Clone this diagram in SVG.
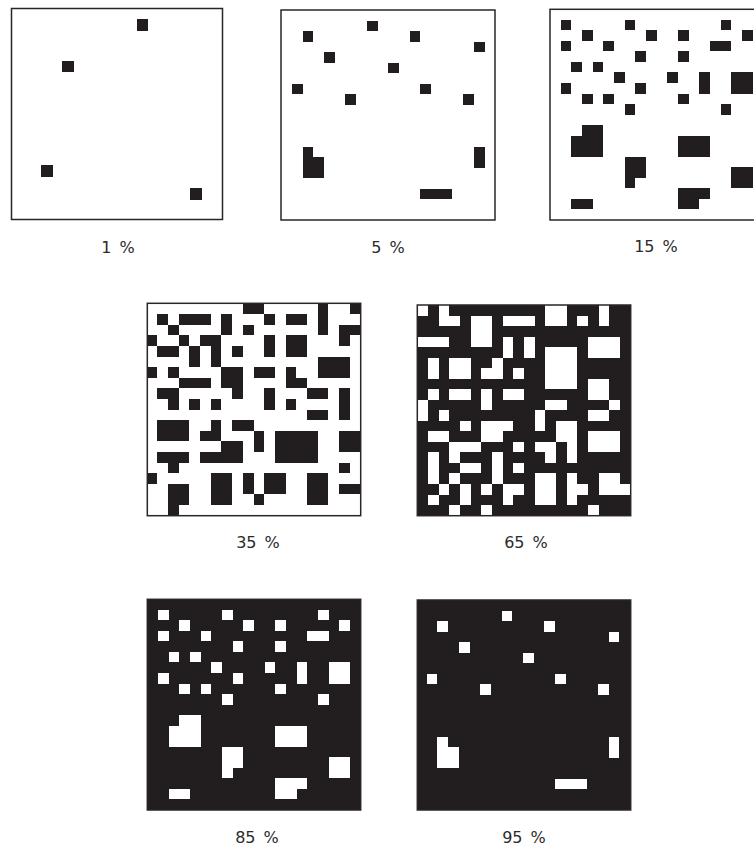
<svg xmlns="http://www.w3.org/2000/svg" width="754" height="847" viewBox="0 0 754 847">
<style>
.k{fill:#221e1f}
.w{fill:#ffffff}
.cells rect{shape-rendering:crispEdges}
.frame{fill:none;stroke:#2a2626;stroke-width:1.5}
.lbl{font-family:"DejaVu Sans","Liberation Sans",sans-serif;font-size:16px;fill:#2b2b2b;text-anchor:middle;word-spacing:3px}
</style>
<rect x="0" y="0" width="754" height="847" fill="#ffffff"/>

<g id="panel-1">
<rect x="11.5" y="8.5" width="211" height="211" class="w"/>
<g class="k cells">
<rect x="136.7" y="19.3" width="11.6" height="11.7"/>
<rect x="62.3" y="60.7" width="11.7" height="11.6"/>
<rect x="40.7" y="165" width="12" height="12.3"/>
<rect x="190" y="188.3" width="12" height="11.7"/>
</g>
<rect x="11.5" y="8.5" width="211" height="211" class="frame"/>
<text x="118" y="253" class="lbl">1 %</text>
</g>

<g id="panel-5">
<rect x="281" y="10" width="214" height="210" class="w"/>
<g class="k cells" transform="translate(281.3,10) scale(10.7,10.5)">
<rect x="8" y="1" width="1" height="1"/><rect x="2" y="2" width="1" height="1"/><rect x="12" y="2" width="1" height="1"/>
<rect x="18" y="3" width="1" height="1"/><rect x="4" y="4" width="1" height="1"/><rect x="10" y="5" width="1" height="1"/>
<rect x="1" y="7" width="1" height="1"/><rect x="13" y="7" width="1" height="1"/><rect x="6" y="8" width="1" height="1"/>
<rect x="17" y="8" width="1" height="1"/>
<rect x="2" y="13" width="1" height="3"/><rect x="3" y="14" width="1" height="2"/>
<rect x="18" y="13" width="1" height="2"/><rect x="13" y="17" width="3" height="1"/>
</g>
<rect x="281" y="10" width="214" height="210" class="frame"/>
<text x="388" y="253" class="lbl">5 %</text>
</g>

<g id="panel-15">
<rect x="550" y="9.3" width="213.4" height="210.7" class="w"/>
<g class="k cells" transform="translate(550,9.3) scale(10.667,10.53)">
<rect x="1" y="1" width="1" height="1"/><rect x="7" y="1" width="1" height="1"/><rect x="16" y="1" width="1" height="1"/>
<rect x="3" y="2" width="1" height="1"/><rect x="9" y="2" width="1" height="1"/><rect x="12" y="2" width="1" height="1"/>
<rect x="18" y="2" width="1" height="1"/><rect x="1" y="3" width="1" height="1"/><rect x="5" y="3" width="1" height="1"/>
<rect x="15" y="3" width="2" height="1"/><rect x="8" y="4" width="1" height="1"/><rect x="12" y="4" width="1" height="1"/>
<rect x="2" y="5" width="1" height="1"/><rect x="4" y="5" width="1" height="1"/><rect x="6" y="6" width="1" height="1"/>
<rect x="11" y="6" width="1" height="1"/><rect x="14" y="6" width="1" height="2"/><rect x="17" y="6" width="2" height="2"/>
<rect x="1" y="7" width="1" height="1"/><rect x="8" y="7" width="1" height="1"/><rect x="3" y="8" width="1" height="1"/>
<rect x="5" y="8" width="1" height="1"/><rect x="12" y="8" width="1" height="1"/><rect x="7" y="9" width="1" height="1"/>
<rect x="16" y="9" width="1" height="1"/>
<rect x="3" y="11" width="2" height="3"/><rect x="2" y="12" width="1" height="2"/>
<rect x="12" y="12" width="3" height="2"/>
<rect x="7" y="14" width="2" height="2"/><rect x="7" y="16" width="1" height="1"/>
<rect x="17" y="15" width="2" height="2"/><rect x="2" y="18" width="2" height="1"/>
<rect x="12" y="17" width="3" height="1"/><rect x="12" y="18" width="2" height="1"/>
</g>
<rect x="550" y="9.3" width="213.4" height="210.7" class="frame"/>
<text x="656" y="252" class="lbl">15 %</text>
</g>

<g id="panel-35">
<rect x="147.3" y="303.3" width="213.4" height="212.4" class="w"/>
<g class="k cells" transform="translate(146.5,303.5) scale(10.7,10.6)">
<rect x="9" y="0" width="2" height="1"/><rect x="11" y="1" width="1" height="1"/><rect x="16" y="0" width="1" height="3"/>
<rect x="19" y="0" width="1" height="1"/><rect x="1" y="1" width="1" height="1"/><rect x="3" y="1" width="3" height="1"/>
<rect x="7" y="1" width="1" height="2"/><rect x="13" y="1" width="2" height="1"/><rect x="2" y="2" width="1" height="1"/>
<rect x="9" y="2" width="1" height="1"/><rect x="18" y="2" width="2" height="1"/><rect x="18" y="3" width="1" height="1"/>
<rect x="0" y="3" width="1" height="1"/><rect x="3" y="3" width="1" height="1"/><rect x="5" y="3" width="2" height="1"/>
<rect x="11" y="3" width="1" height="2"/><rect x="13" y="3" width="2" height="2"/><rect x="1" y="4" width="2" height="1"/>
<rect x="4" y="4" width="1" height="2"/><rect x="6" y="4" width="1" height="2"/><rect x="8" y="4" width="1" height="1"/>
<rect x="16" y="5" width="3" height="2"/><rect x="0" y="6" width="1" height="1"/><rect x="2" y="6" width="1" height="1"/>
<rect x="7" y="6" width="2" height="2"/><rect x="8" y="8" width="1" height="1"/><rect x="10" y="6" width="2" height="1"/>
<rect x="13" y="6" width="1" height="1"/><rect x="13" y="7" width="2" height="1"/><rect x="15" y="8" width="2" height="1"/>
<rect x="3" y="7" width="3" height="1"/><rect x="1" y="8" width="2" height="1"/><rect x="2" y="9" width="1" height="1"/>
<rect x="11" y="8" width="1" height="2"/><rect x="18" y="8" width="1" height="3"/><rect x="4" y="9" width="1" height="1"/>
<rect x="6" y="9" width="1" height="1"/><rect x="13" y="9" width="1" height="1"/><rect x="15" y="10" width="2" height="1"/>
<rect x="1" y="11" width="3" height="2"/><rect x="6" y="11" width="1" height="1"/><rect x="5" y="12" width="2" height="1"/>
<rect x="8" y="11" width="2" height="1"/><rect x="10" y="12" width="1" height="2"/><rect x="12" y="12" width="4" height="3"/>
<rect x="18" y="12" width="2" height="2"/><rect x="7" y="13" width="2" height="1"/><rect x="5" y="14" width="4" height="1"/>
<rect x="1" y="14" width="3" height="1"/><rect x="2" y="15" width="1" height="1"/><rect x="18" y="15" width="1" height="1"/>
<rect x="0" y="16" width="1" height="1"/><rect x="6" y="16" width="2" height="3"/><rect x="9" y="16" width="1" height="2"/>
<rect x="10" y="18" width="1" height="1"/><rect x="11" y="16" width="2" height="2"/><rect x="15" y="16" width="2" height="3"/>
<rect x="18" y="17" width="2" height="1"/><rect x="2" y="17" width="2" height="2"/><rect x="2" y="19" width="1" height="1"/>
</g>
<rect x="147.3" y="303.3" width="213.4" height="212.4" class="frame"/>
<text x="258" y="548" class="lbl">35 %</text>
</g>

<g id="panel-65">
<rect x="417.3" y="305" width="213.4" height="210.7" class="k"/>
<g class="w cells" transform="translate(417.3,305) scale(10.667,10.53)">
<rect x="0" y="0" width="1" height="1"/><rect x="2" y="0" width="1" height="2"/><rect x="3" y="1" width="1" height="1"/>
<rect x="5" y="1" width="2" height="3"/><rect x="8" y="1" width="3" height="1"/><rect x="12" y="0" width="2" height="2"/>
<rect x="15" y="1" width="1" height="1"/><rect x="17" y="0" width="1" height="2"/><rect x="0" y="3" width="3" height="1"/>
<rect x="8" y="3" width="1" height="2"/><rect x="10" y="3" width="1" height="2"/><rect x="16" y="3" width="3" height="2"/>
<rect x="12" y="4" width="3" height="4"/><rect x="1" y="5" width="1" height="2"/><rect x="3" y="5" width="2" height="2"/>
<rect x="7" y="5" width="1" height="2"/><rect x="6" y="6" width="1" height="1"/><rect x="9" y="6" width="1" height="1"/>
<rect x="16" y="7" width="2" height="2"/><rect x="1" y="8" width="1" height="1"/><rect x="3" y="8" width="2" height="1"/>
<rect x="6" y="8" width="1" height="2"/><rect x="8" y="8" width="2" height="1"/><rect x="12" y="9" width="2" height="1"/>
<rect x="18" y="9" width="1" height="1"/><rect x="0" y="9" width="1" height="2"/><rect x="2" y="10" width="1" height="1"/>
<rect x="11" y="10" width="1" height="2"/><rect x="16" y="10" width="2" height="1"/><rect x="4" y="11" width="1" height="1"/>
<rect x="6" y="11" width="3" height="1"/><rect x="6" y="12" width="2" height="1"/><rect x="13" y="11" width="2" height="2"/>
<rect x="14" y="13" width="1" height="2"/><rect x="1" y="12" width="2" height="1"/><rect x="16" y="12" width="3" height="2"/>
<rect x="3" y="13" width="3" height="1"/><rect x="3" y="14" width="1" height="1"/><rect x="9" y="13" width="1" height="1"/>
<rect x="11" y="13" width="2" height="1"/><rect x="12" y="14" width="1" height="1"/><rect x="1" y="14" width="1" height="3"/>
<rect x="7" y="14" width="1" height="3"/><rect x="4" y="15" width="2" height="1"/><rect x="9" y="15" width="1" height="1"/>
<rect x="3" y="16" width="1" height="1"/><rect x="11" y="16" width="2" height="3"/><rect x="14" y="16" width="1" height="3"/>
<rect x="15" y="17" width="1" height="1"/><rect x="17" y="16" width="2" height="1"/><rect x="17" y="17" width="3" height="1"/>
<rect x="2" y="17" width="1" height="1"/><rect x="4" y="17" width="1" height="2"/><rect x="6" y="17" width="1" height="1"/>
<rect x="8" y="17" width="2" height="1"/><rect x="8" y="18" width="1" height="1"/><rect x="1" y="18" width="1" height="1"/>
<rect x="3" y="19" width="1" height="1"/><rect x="6" y="19" width="1" height="1"/><rect x="16" y="19" width="1" height="1"/>
</g>
<rect x="417.3" y="305" width="213.4" height="210.7" class="frame"/>
<text x="526" y="548" class="lbl">65 %</text>
</g>

<g id="panel-85">
<rect x="147.3" y="599.3" width="213.4" height="210.7" class="k"/>
<g class="w cells" transform="translate(147.3,599.3) scale(10.667,10.53)">
<rect x="1" y="1" width="1" height="1"/><rect x="7" y="1" width="1" height="1"/><rect x="16" y="1" width="1" height="1"/>
<rect x="3" y="2" width="1" height="1"/><rect x="9" y="2" width="1" height="1"/><rect x="12" y="2" width="1" height="1"/>
<rect x="18" y="2" width="1" height="1"/><rect x="1" y="3" width="1" height="1"/><rect x="5" y="3" width="1" height="1"/>
<rect x="15" y="3" width="2" height="1"/><rect x="8" y="4" width="1" height="1"/><rect x="12" y="4" width="1" height="1"/>
<rect x="2" y="5" width="1" height="1"/><rect x="4" y="5" width="1" height="1"/><rect x="6" y="6" width="1" height="1"/>
<rect x="11" y="6" width="1" height="1"/><rect x="14" y="6" width="1" height="2"/><rect x="17" y="6" width="2" height="2"/>
<rect x="1" y="7" width="1" height="1"/><rect x="8" y="7" width="1" height="1"/><rect x="3" y="8" width="1" height="1"/>
<rect x="5" y="8" width="1" height="1"/><rect x="12" y="8" width="1" height="1"/><rect x="7" y="9" width="1" height="1"/>
<rect x="16" y="9" width="1" height="1"/>
<rect x="3" y="11" width="2" height="3"/><rect x="2" y="12" width="1" height="2"/>
<rect x="12" y="12" width="3" height="2"/>
<rect x="7" y="14" width="2" height="2"/><rect x="7" y="16" width="1" height="1"/>
<rect x="17" y="15" width="2" height="2"/><rect x="2" y="18" width="2" height="1"/>
<rect x="12" y="17" width="3" height="1"/><rect x="12" y="18" width="2" height="1"/>
</g>
<rect x="147.3" y="599.3" width="213.4" height="210.7" class="frame"/>
<text x="257" y="843" class="lbl">85 %</text>
</g>

<g id="panel-95">
<rect x="417.3" y="600" width="213.4" height="210" class="k"/>
<g class="w cells" transform="translate(416,600) scale(10.7,10.5)">
<rect x="8" y="1" width="1" height="1"/><rect x="2" y="2" width="1" height="1"/><rect x="12" y="2" width="1" height="1"/>
<rect x="18" y="3" width="1" height="1"/><rect x="4" y="4" width="1" height="1"/><rect x="10" y="5" width="1" height="1"/>
<rect x="1" y="7" width="1" height="1"/><rect x="13" y="7" width="1" height="1"/><rect x="6" y="8" width="1" height="1"/>
<rect x="17" y="8" width="1" height="1"/>
<rect x="2" y="13" width="1" height="3"/><rect x="3" y="14" width="1" height="2"/>
<rect x="18" y="13" width="1" height="2"/><rect x="13" y="17" width="3" height="1"/>
</g>
<rect x="417.3" y="600" width="213.4" height="210" class="frame"/>
<text x="524" y="843" class="lbl">95 %</text>
</g>

<g id="connectors"></g>
</svg>
